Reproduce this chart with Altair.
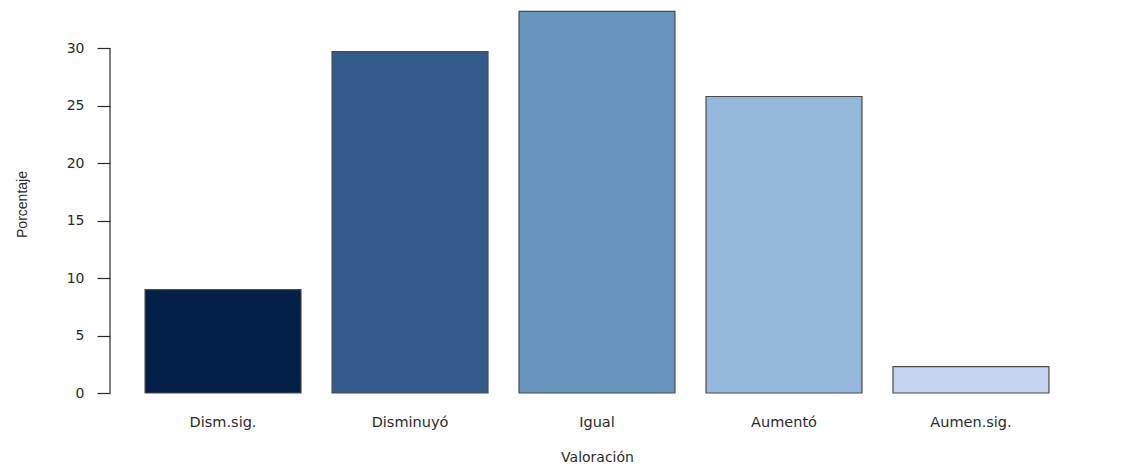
import altair as alt
import pandas as pd

categories = ["Dism.sig.", "Disminuyó", "Igual", "Aumentó", "Aumen.sig."]
values = [9.0, 29.7, 33.2, 25.8, 2.3]
colors = ["#022047", "#325B8B", "#6895BD", "#94B8DB", "#C5D5F0"]
y_ticks = [0, 5, 10, 15, 20, 25, 30]

df = pd.DataFrame({"Valoración": categories, "Porcentaje": values})

FONT = "DejaVu Sans"
TXT = "#2a2a2a"

yscale = alt.Scale(domain=[0, 33.5], nice=False, zero=True)

bars = alt.Chart(df).mark_bar(stroke="#4a4a4a", strokeWidth=1.2).encode(
    x=alt.X(
        "Valoración:N",
        sort=categories,
        scale=alt.Scale(paddingInner=0.166, paddingOuter=0.1875),
        axis=alt.Axis(
            title="Valoración",
            labelAngle=0,
            domain=False,
            ticks=False,
            tickSize=0,
            labelPadding=22,
            labelFont=FONT,
            labelFontSize=14.5,
            labelColor=TXT,
            titleFont=FONT,
            titleFontSize=14,
            titleFontWeight="normal",
            titleColor=TXT,
            titleY=64,
            titleBaseline="middle",
        ),
    ),
    y=alt.Y(
        "Porcentaje:Q",
        scale=yscale,
        axis=alt.Axis(
            title="Porcentaje",
            values=y_ticks,
            domain=False,
            grid=False,
            tickSize=13,
            tickColor=TXT,
            tickWidth=1.2,
            labelPadding=13,
            labelFont=FONT,
            labelFontSize=14,
            labelColor=TXT,
            titleFont="Liberation Sans Narrow, Liberation Sans",
            titleFontSize=14,
            titleFontWeight="normal",
            titleColor=TXT,
            titleX=-88,
            titleY=196,
            titleAngle=270,
            titleAlign="center",
            titleBaseline="middle",
        ),
    ),
    color=alt.Color(
        "Valoración:N",
        scale=alt.Scale(domain=categories, range=colors),
        legend=None,
    ),
)

axis_line = alt.Chart(pd.DataFrame({"a": [0]})).mark_rule(
    color=TXT, strokeWidth=1.2
).encode(
    x=alt.value(0),
    y=alt.datum(0),
    y2=alt.datum(30),
)

chart = alt.layer(bars, axis_line).properties(
    width=974,
    height=385,
    background="white",
    autosize=alt.AutoSizeParams(type="none"),
    padding={"left": 102, "top": 0, "right": 30, "bottom": 73},
).configure_view(strokeWidth=0, stroke=None)

chart.save("out.html", embed_options={"renderer": "svg", "actions": False})
